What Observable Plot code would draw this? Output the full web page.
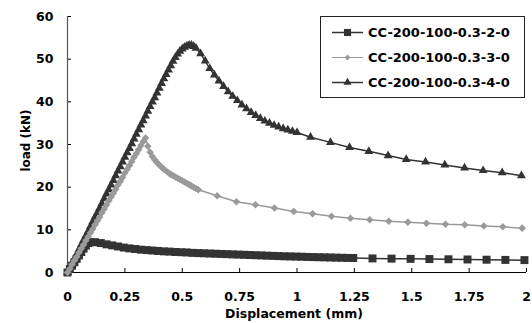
<!DOCTYPE html>
<html>
<head>
<meta charset="utf-8">
<script src="https://cdn.jsdelivr.net/npm/d3@7"></script>
<script src="https://cdn.jsdelivr.net/npm/@observablehq/plot@0.6"></script>
<style>
  html, body { margin: 0; padding: 0; background: #fff; }
  #wrap { position: relative; width: 532px; height: 323px; }
  .legend { position: absolute; left: 320px; top: 16px; width: 205px; height: 82px; box-sizing: border-box;
            border: 1px solid #222; background: #fff; padding-top: 3px;
            font-family: "DejaVu Sans", sans-serif; font-weight: bold; font-size: 13px; color: #000; }
  .row { display: flex; align-items: center; height: 25px; }
  .row svg { flex: none; }
</style>
</head>
<body>
<div id="wrap"></div>
<script>
// ---- data ----
const seriesNames = ["CC-200-100-0.3-2-0", "CC-200-100-0.3-3-0", "CC-200-100-0.3-4-0"];
const xTicks = [0, 0.25, 0.5, 0.75, 1, 1.25, 1.5, 1.75, 2];
const xTickLabels = ["0", "0.25", "0.5", "0.75", "1", "1.25", "1.5", "1.75", "2"];
const yTicks = [0, 10, 20, 30, 40, 50, 60];

// Series 1: CC-200-100-0.3-2-0 (squares)
const s1x = [0, 0.01, 0.02, 0.03, 0.04, 0.05, 0.06, 0.07, 0.08, 0.09, 0.10, 0.12,
  0.145, 0.17, 0.195, 0.22, 0.245, 0.27, 0.295, 0.32, 0.345, 0.37, 0.395, 0.42, 0.445, 0.47, 0.495,
  0.52, 0.545, 0.57, 0.595, 0.62, 0.645, 0.67, 0.695, 0.72, 0.745, 0.77, 0.795, 0.82, 0.845, 0.87,
  0.895, 0.92, 0.945, 0.97, 0.995, 1.02, 1.045, 1.07, 1.095, 1.12, 1.145, 1.17, 1.195, 1.22, 1.245,
  1.329, 1.412, 1.495, 1.577, 1.660, 1.743, 1.826, 1.908, 1.991];
const s1y = [0, 0.8, 1.6, 2.4, 3.2, 4.0, 4.8, 5.6, 6.3, 6.9, 7.1, 7.1,
  6.9, 6.6, 6.35, 6.1, 5.85, 5.65, 5.5, 5.35, 5.25, 5.15, 5.05, 4.95, 4.9, 4.8, 4.75,
  4.7, 4.6, 4.55, 4.5, 4.45, 4.4, 4.35, 4.3, 4.25, 4.2, 4.15, 4.1, 4.05, 4.0, 3.95,
  3.9, 3.85, 3.8, 3.77, 3.73, 3.7, 3.65, 3.62, 3.58, 3.55, 3.52, 3.48, 3.45, 3.42, 3.4,
  3.3, 3.25, 3.2, 3.15, 3.1, 3.05, 3.0, 2.95, 2.9];

// Series 2: CC-200-100-0.3-3-0 (diamonds)
const s2x = [0, 0.01, 0.02, 0.03, 0.04, 0.05, 0.06, 0.07, 0.08, 0.09, 0.10, 0.11, 0.12, 0.13, 0.14,
  0.15, 0.16, 0.17, 0.18, 0.19, 0.20, 0.21, 0.22, 0.23, 0.24, 0.25, 0.26, 0.27, 0.28, 0.29, 0.30,
  0.31, 0.32, 0.33, 0.34, 0.35, 0.36, 0.37, 0.38, 0.39, 0.40, 0.41, 0.42, 0.43, 0.44, 0.45, 0.46,
  0.47, 0.48, 0.49, 0.50, 0.51, 0.52, 0.53, 0.54, 0.55, 0.56, 0.57,
  0.652, 0.736, 0.819, 0.902, 0.986, 1.068, 1.150, 1.233, 1.317, 1.400, 1.483, 1.564, 1.647,
  1.731, 1.814, 1.897, 1.981];
const s2y = [0, 0.9, 1.9, 2.8, 3.7, 4.7, 5.6, 6.5, 7.5, 8.4, 9.3, 10.2, 11.2, 12.1, 13.0,
  14.0, 14.9, 15.8, 16.8, 17.7, 18.6, 19.5, 20.5, 21.4, 22.3, 23.3, 24.2, 25.1, 26.0, 27.0, 27.9,
  28.8, 29.8, 30.7, 31.5, 29.6, 28.2, 27.2, 26.4, 25.8, 25.2, 24.7, 24.2, 23.8, 23.4, 23.0, 22.7,
  22.4, 22.1, 21.8, 21.5, 21.2, 20.9, 20.6, 20.3, 20.0, 19.7, 19.4,
  18.0, 16.6, 15.9, 15.1, 14.3, 13.75, 13.2, 12.7, 12.35, 12.0, 11.8, 11.55, 11.3,
  11.2, 10.9, 10.7, 10.4];

// Series 3: CC-200-100-0.3-4-0 (triangles)
const s3x = [0, 0.01, 0.02, 0.03, 0.04, 0.05, 0.06, 0.07, 0.08, 0.09, 0.10, 0.11, 0.12, 0.13, 0.14,
  0.15, 0.16, 0.17, 0.18, 0.19, 0.20, 0.21, 0.22, 0.23, 0.24, 0.25, 0.26, 0.27, 0.28, 0.29, 0.30,
  0.31, 0.32, 0.33, 0.34, 0.35, 0.36, 0.37, 0.38, 0.39, 0.40, 0.41, 0.42, 0.43, 0.44, 0.45, 0.46,
  0.47, 0.48, 0.49, 0.50, 0.51, 0.52, 0.53, 0.54, 0.55,
  0.56, 0.58, 0.60, 0.62, 0.64, 0.66, 0.68, 0.70, 0.72, 0.74, 0.76, 0.78, 0.80, 0.82, 0.84, 0.86,
  0.88, 0.90, 0.92, 0.94, 0.96, 0.98, 1.00,
  1.059, 1.146, 1.229, 1.313, 1.397, 1.476, 1.560, 1.644, 1.730, 1.811, 1.894, 1.978];
const s3y = [0, 1.1, 2.2, 3.2, 4.3, 5.4, 6.5, 7.6, 8.6, 9.7, 10.8, 11.9, 13.0, 14.0, 15.1,
  16.2, 17.3, 18.4, 19.4, 20.5, 21.6, 22.7, 23.8, 24.8, 25.9, 27.0, 28.1, 29.1, 30.2, 31.3, 32.4,
  33.5, 34.6, 35.6, 36.7, 37.8, 38.9, 40.0, 41.0, 42.1, 43.2, 44.3, 45.4, 46.4, 47.5, 48.5, 49.5,
  50.4, 51.2, 51.9, 52.4, 52.8, 53.1, 53.3, 53.3, 53.0,
  52.6, 51.3, 49.6, 47.8, 46.3, 44.9, 43.6, 42.4, 41.3, 40.3, 39.3, 38.4, 37.5, 36.8, 36.1, 35.5,
  35.0, 34.5, 34.1, 33.7, 33.4, 33.1, 32.8,
  31.7, 30.5, 29.3, 28.4, 27.4, 26.5, 25.9, 25.2, 24.5, 23.9, 23.4, 22.7];

// ---- build ----
const dark = "#333333", gray = "#9a9a9a";
const toRows = (xs, ys) => xs.map((x, i) => ({x, y: ys[i]}));
const s1 = toRows(s1x, s1y), s2 = toRows(s2x, s2y), s3 = toRows(s3x, s3y);
const styleDefs = [
  {name: seriesNames[0], data: s1, color: dark, lineColor: "#333", lw: 1.5, symbol: "square", r: 4.5, lr: 4.0},
  {name: seriesNames[1], data: s2, color: gray, lineColor: "#999", lw: 1.5, symbol: "diamond2", r: 3.4, lr: 2.6},
  {name: seriesNames[2], data: s3, color: dark, lineColor: "#333", lw: 1.5, symbol: "triangle", r: 3.3, lr: 3.0}
];
const drawOrder = [0, 2, 1];

const font = "DejaVu Sans";
const chart = Plot.plot({
  width: 532, height: 323,
  marginLeft: 67, marginRight: 6, marginTop: 16, marginBottom: 51,
  x: {domain: [0, 2]},
  y: {domain: [0, 60]},
  style: {fontFamily: font, fontWeight: "bold", fontSize: "12.5px", color: "#000", background: "#fff"},
  marks: [
    Plot.axisX(xTicks, {tickSize: 0, tickPadding: 20, tickFormat: d => xTickLabels[xTicks.indexOf(d)], label: null, fontSize: 12.5, fontWeight: "bold", fill: "#000"}),
    Plot.axisY(yTicks, {tickSize: 0, tickPadding: 14, label: null, fontSize: 12.5, fontWeight: "bold", fill: "#000"}),
    Plot.tickX(xTicks, {x: d => d, insetTop: 252, stroke: "#000", strokeWidth: 1}),
    Plot.tickY(yTicks, {y: d => d, insetRight: 455, stroke: "#000", strokeWidth: 1}),
    Plot.ruleX([0], {stroke: "#555", strokeWidth: 1.2}),
    Plot.ruleY([0], {stroke: "#000", strokeWidth: 1.2}),
    ...drawOrder.flatMap(i => {
      const s = styleDefs[i];
      return [
        Plot.line(s.data, {x: "x", y: "y", stroke: s.lineColor, strokeWidth: s.lw}),
        Plot.dot(s.data, {x: "x", y: "y", symbol: s.symbol, r: s.r, fill: s.color, stroke: "none"})
      ];
    }),
    Plot.text(["Displacement (mm)"], {frameAnchor: "bottom", lineAnchor: "middle", textAnchor: "middle", dx: -3, dy: 41, fontSize: 12.5, fontWeight: "bold", fill: "#000"}),
    Plot.text(["load (kN)"], {frameAnchor: "left", lineAnchor: "middle", textAnchor: "middle", dx: -41, dy: -4, rotate: -90, fontSize: 12, fontWeight: "bold", fill: "#000"})
  ]
});
const wrap = document.getElementById("wrap");
wrap.appendChild(chart);

// legend (overlay inside plot area, as in the reference)
const legend = document.createElement("div");
legend.className = "legend";
const symMap = {square: d3.symbolSquare, diamond2: d3.symbolDiamond2, triangle: d3.symbolTriangle};
styleDefs.forEach(s => {
  const row = document.createElement("div");
  row.className = "row";
  const svg = d3.create("svg").attr("width", 47).attr("height", 25);
  svg.append("line").attr("x1", 11).attr("x2", 42).attr("y1", 12.5).attr("y2", 12.5)
    .attr("stroke", s.lineColor).attr("stroke-width", s.symbol === "diamond2" ? 1 : 1.5);
  svg.append("path").attr("transform", "translate(26.5,12.5)")
    .attr("d", d3.symbol(symMap[s.symbol], Math.PI * s.lr * s.lr)())
    .attr("fill", s.color);
  row.appendChild(svg.node());
  const t = document.createElement("span");
  t.textContent = s.name;
  row.appendChild(t);
  legend.appendChild(row);
});
wrap.appendChild(legend);
</script>
</body>
</html>
